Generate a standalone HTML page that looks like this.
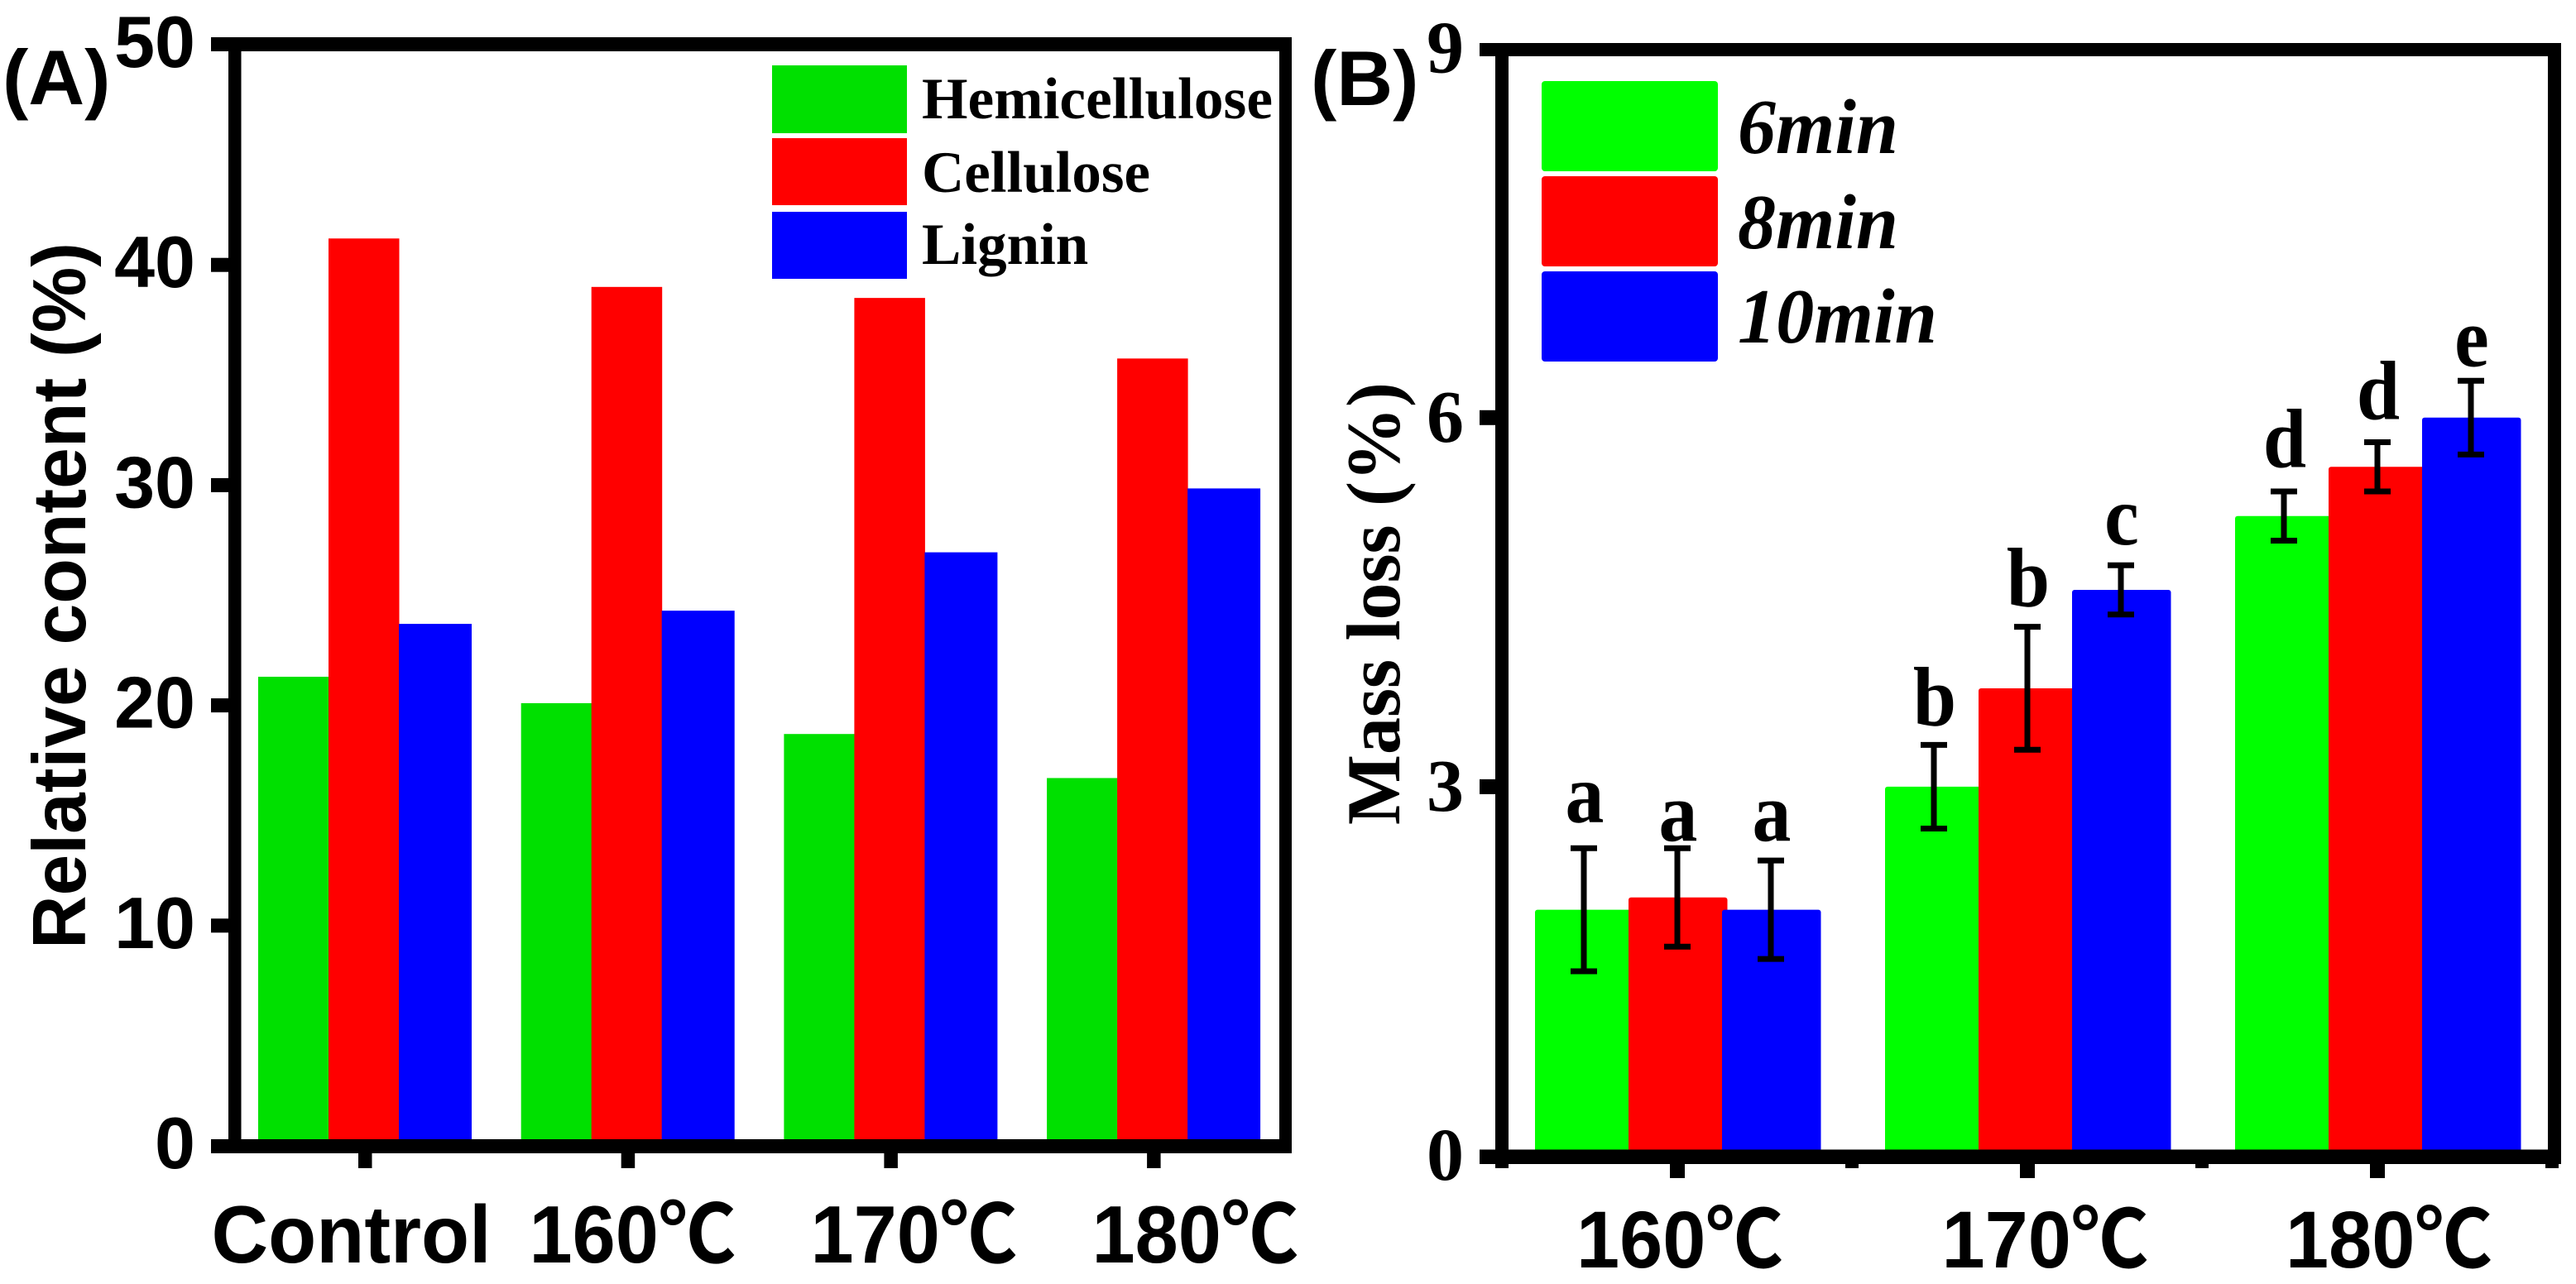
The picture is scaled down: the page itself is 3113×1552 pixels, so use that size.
<!DOCTYPE html>
<html lang="en">
<head>
<meta charset="utf-8">
<title>Relative content and mass loss bar charts</title>
<style>
html,body{margin:0;padding:0;background:#fff;}
svg{display:block;}
.sans{font-family:"Liberation Sans","Noto Sans CJK SC",sans-serif;font-weight:bold;}
.serif{font-family:"Liberation Serif","Noto Serif CJK SC",serif;font-weight:bold;}
</style>
</head>
<body>
<svg id="figure" xmlns="http://www.w3.org/2000/svg" width="3113" height="1552" viewBox="0 0 3113 1552">
  <rect x="0" y="0" width="3113" height="1552" fill="#fff"/>
  <g id="panelA">
    <text class="sans" x="3" y="126" font-size="94">(A)</text>
    <g id="barsA"></g>
    <g id="axesA"></g>
    <text class="sans" font-size="91" textLength="854" lengthAdjust="spacingAndGlyphs" transform="translate(103,1147) rotate(-90)">Relative content (%)</text>
    <g class="serif" font-size="71">
      <rect x="933" y="79" width="163" height="82" fill="#00e000"/>
      <rect x="933" y="167" width="163" height="81" fill="#ff0000"/>
      <rect x="933" y="256" width="163" height="81" fill="#0000ff"/>
      <text x="1114" y="143" textLength="424" lengthAdjust="spacingAndGlyphs">Hemicellulose</text>
      <text x="1114" y="232" textLength="276" lengthAdjust="spacingAndGlyphs">Cellulose</text>
      <text x="1114" y="319">Lignin</text>
    </g>
  </g>
  <g id="panelB">
    <text class="sans" x="1584" y="127" font-size="94">(B)</text>
    <g id="barsB"></g>
    <g id="axesB"></g>
    <text class="serif" font-size="90" textLength="535" lengthAdjust="spacingAndGlyphs" transform="translate(1691,997) rotate(-90) scale(1,1.03)">Mass loss (%)</text>
    <g class="serif" font-size="94" font-style="italic">
      <rect x="1863" y="98" width="213" height="109" rx="4" fill="#00ff00"/>
      <rect x="1863" y="213" width="213" height="109" rx="4" fill="#ff0000"/>
      <rect x="1863" y="328" width="213" height="109" rx="4" fill="#0000ff"/>
      <text x="2100" y="185" textLength="194" lengthAdjust="spacingAndGlyphs">6min</text>
      <text x="2100" y="300" textLength="194" lengthAdjust="spacingAndGlyphs">8min</text>
      <text x="2100" y="414" textLength="241" lengthAdjust="spacingAndGlyphs">10min</text>
    </g>
  </g>
</svg>
<script>
// ---- Panel A data ----
const categoriesA = ['Control', '160℃', '170℃', '180℃'];
const seriesNamesA = ['hemicellulose', 'cellulose', 'lignin'];
const hemicellulose = [21.3, 20.1, 18.7, 16.7];
const cellulose = [41.2, 39.0, 38.5, 35.75];
const lignin = [23.7, 24.3, 26.95, 29.85];
const yTicksA = [0, 10, 20, 30, 40, 50];

// ---- Panel B data ----
const categoriesB = ['160℃', '170℃', '180℃'];
const seriesNamesB = ['6min', '8min', '10min'];
const loss6min = [2.0, 3.0, 5.2];
const loss8min = [2.1, 3.8, 5.6];
const loss10min = [2.0, 4.6, 6.0];
const err6min = [0.5, 0.34, 0.2];
const err8min = [0.4, 0.5, 0.2];
const err10min = [0.4, 0.2, 0.3];
const letters6min = ['a', 'b', 'd'];
const letters8min = ['a', 'b', 'd'];
const letters10min = ['a', 'c', 'e'];
const letterLevel6min = [2.71, 3.5, 5.6];
const letterLevel8min = [2.56, 4.47, 5.99];
const letterLevel10min = [2.56, 4.97, 6.42];
const yTicksB = [0, 3, 6, 9];

const NS = 'http://www.w3.org/2000/svg';
function add(parent, tag, attrs, text) {
  const el = document.createElementNS(NS, tag);
  for (const k in attrs) el.setAttribute(k, attrs[k]);
  if (text !== undefined) el.textContent = text;
  parent.appendChild(el);
  return el;
}

// ---- Axis functions ----
const yA = v => 1385 - 26.62 * v;
const xA = i => 441 + 317.7 * i;
const yB = v => 1397 - 148.7 * v;
const xB = i => 2027 + 423 * i;

// ---- Panel A ----
const barsA = document.getElementById('barsA');
const axesA = document.getElementById('axesA');
const valuesA = [hemicellulose, cellulose, lignin];
const colorsA = ['#00e000', '#ff0000', '#0000ff'];
valuesA.forEach((vals, s) => {
  vals.forEach((v, i) => {
    const w = s === 2 ? 88 : 85.5;
    const el = add(barsA, 'rect', {x: xA(i) - 129 + s * 85, y: yA(v), width: w, height: yA(0) - yA(v), fill: colorsA[s]});
    
    
  });
});
const spinesA = [[255, 45, 1306, 17], [255, 1377, 1306, 17], [276, 45, 15.5, 1349], [1546, 45, 15, 1349]];
spinesA.forEach((r, n) => {
  const el = add(axesA, 'rect', {x: r[0], y: r[1], width: r[2], height: r[3], fill: '#000'});
  
  
});
yTicksA.forEach(t => {
  if (t > 0 && t < 50) {
    const tick = add(axesA, 'rect', {x: 255, y: yA(t) - 8.5, width: 24, height: 17, fill: '#000'});
    
    
  }
  const label = add(axesA, 'text', {x: 236, y: yA(t) + 27, 'text-anchor': 'end', 'font-size': 88, 'class': 'sans'}, String(t));
  
  
});
categoriesA.forEach((c, i) => {
  const tick = add(axesA, 'rect', {x: xA(i) - 8, y: 1393, width: 16.5, height: 19, fill: '#000'});
  
  
  const label = add(axesA, 'text', {x: 424.5 + 340 * i, y: 1526, 'text-anchor': 'middle', 'font-size': 98, 'class': 'sans', textLength: i === 0 ? 338 : 250, lengthAdjust: 'spacingAndGlyphs'}, c);
  
  
});

// ---- Panel B ----
const barsB = document.getElementById('barsB');
const axesB = document.getElementById('axesB');
const valuesB = [loss6min, loss8min, loss10min];
const errorsB = [err6min, err8min, err10min];
const lettersB = [letters6min, letters8min, letters10min];
const letterLevelsB = [letterLevel6min, letterLevel8min, letterLevel10min];
const colorsB = ['#00ff00', '#ff0000', '#0000ff'];
valuesB.forEach((vals, s) => {
  vals.forEach((v, i) => {
    const el = add(barsB, 'rect', {x: xB(i) - 172 + s * 113, y: yB(v), width: 119.5, height: yB(0) - yB(v), rx: 3, fill: colorsB[s]});
    
    
  });
});
valuesB.forEach((vals, s) => {
  vals.forEach((v, i) => {
    const cx = xB(i) + (s - 1) * 113;
    const e = errorsB[s][i];
    const hi = yB(v + e), lo = yB(v - e);
    const g = add(barsB, 'g', {stroke: '#000', 'stroke-width': 7});
    
    
    add(g, 'line', {x1: cx, x2: cx, y1: hi, y2: lo});
    add(g, 'line', {x1: cx - 16, x2: cx + 16, y1: hi, y2: hi});
    add(g, 'line', {x1: cx - 16, x2: cx + 16, y1: lo, y2: lo});
    const t = add(barsB, 'text', {'text-anchor': 'middle', 'font-size': 102, 'class': 'serif',
      transform: 'translate(' + (cx + 1) + ',' + yB(letterLevelsB[s][i]) + ') scale(0.92,1)'}, lettersB[s][i]);
    
    
  });
});
const spinesB = [[1788, 52, 1307, 16], [1788, 1389.5, 1307, 17.5], [1807, 52, 16, 1354], [3079, 52, 16, 1354]];
spinesB.forEach((r, n) => {
  const el = add(axesB, 'rect', {x: r[0], y: r[1], width: r[2], height: r[3], fill: '#000'});
  
  
});
yTicksB.forEach(t => {
  if (t > 0 && t < 9) {
    const tick = add(axesB, 'rect', {x: 1788, y: yB(t) - 9, width: 22, height: 18, fill: '#000'});
    
    
  }
  const label = add(axesB, 'text', {x: 1769, y: yB(t) + 29, 'text-anchor': 'end', 'font-size': 90, 'class': 'serif'}, String(t));
  
  
});
categoriesB.forEach((c, i) => {
  const tick = add(axesB, 'rect', {x: xB(i) - 9, y: 1405, width: 18, height: 19, fill: '#000'});
  
  
  const minor = add(axesB, 'rect', {x: xB(i) + 203, y: 1405, width: 16, height: 7, fill: '#000'});
  
  
  const label = add(axesB, 'text', {x: 2030 + 428.5 * i + (i === 1 ? 13 : 0), y: 1532, 'text-anchor': 'middle', 'font-size': 97, 'class': 'sans', textLength: 250, lengthAdjust: 'spacingAndGlyphs'}, c);
  
  
});
const minorLeft = add(axesB, 'rect', {x: 1807, y: 1405, width: 16, height: 7, fill: '#000'});


</script>
</body>
</html>
